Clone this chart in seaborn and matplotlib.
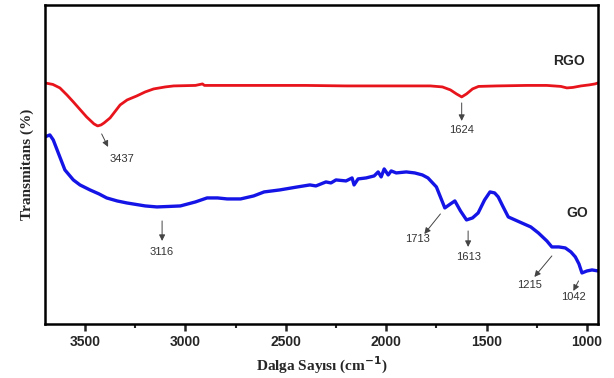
import matplotlib
matplotlib.use('Agg')
import matplotlib.pyplot as plt
from matplotlib.ticker import MultipleLocator
import pandas as pd
import seaborn as sns

# FTIR spectra, wavenumber (cm-1) vs transmittance (arbitrary units)
rgo_x = [3700, 3660, 3625, 3590, 3558, 3492, 3455, 3437, 3420, 3405, 3375, 3325, 3290, 3242,
         3200, 3158, 3100, 3058, 2950, 2915, 2905, 2800, 2600, 2400, 2200, 2000, 1900, 1780,
         1720, 1680, 1650, 1624, 1600, 1570, 1540, 1450, 1300, 1200, 1130, 1100, 1070, 1030,
         990, 960, 945]
rgo_y = [241, 239.5, 236, 229, 222, 207, 200, 198, 199, 201, 206, 219, 224, 228,
         232, 235, 237, 238, 238.5, 240, 238.5, 238.5, 238.5, 238.5, 238, 238, 238, 238,
         237, 234, 230, 227, 230, 235, 237.5, 238, 238.5, 238.5, 237.5, 236, 236.5, 238,
         239, 240, 241]

go_x = [3700, 3675, 3658, 3633, 3600, 3558, 3525, 3475, 3430, 3392, 3340, 3292, 3200, 3142,
        3080, 3025, 2950, 2892, 2840, 2792, 2725, 2660, 2608, 2530, 2442, 2380, 2350, 2300,
        2275, 2250, 2200, 2170, 2160, 2140, 2100, 2060, 2040, 2025, 2010, 1990, 1975, 1950,
        1900, 1858, 1820, 1792, 1750, 1708, 1680, 1658, 1630, 1600, 1570, 1542, 1510, 1483,
        1460, 1442, 1420, 1392, 1325, 1280, 1242, 1200, 1175, 1140, 1108, 1080, 1058, 1040,
        1025, 1000, 975, 945]
go_y = [187, 189, 184, 171, 154, 144, 139, 134, 130, 126, 123, 121, 118, 117,
        117.5, 118, 122, 126, 126, 125, 125, 128, 132, 134, 137, 139, 138, 142,
        141, 144, 143, 146, 139, 145, 146, 148, 152, 147, 155, 149, 153, 151,
        152, 151, 149, 146, 137, 116, 120, 123, 113, 104, 106, 111, 124, 132,
        131, 127, 118, 107, 101, 97, 91, 83, 77, 77, 76, 72, 67, 60,
        51, 53, 54, 53]

# peak labels: (text, arrow start, arrow end, text position)
peak_labels = ['3437', '1624', '3116', '1713', '1613', '1215', '1042']
arrow_from = [(3417, 190), (1624, 221), (3116, 103), (1730, 110), (1592, 93), (1175, 68), (1042, 43)]
arrow_to = [(3385, 177), (1624, 203), (3116, 83), (1810, 90), (1592, 77), (1262, 47), (1068, 33)]
label_pos = [(3317, 165), (1624, 194), (3116, 72), (1845, 85), (1590, 67), (1287, 39), (1067, 27)]

rgo = pd.DataFrame({'wavenumber': rgo_x, 'T': rgo_y})
go = pd.DataFrame({'wavenumber': go_x, 'T': go_y})

sns.set_style('ticks')
plt.rcParams['font.family'] = ['Liberation Sans', 'DejaVu Sans']

fig, ax = plt.subplots(figsize=(6.14, 3.78), dpi=100)
fig.subplots_adjust(left=0.073, right=0.974, bottom=0.143, top=0.987)

sns.lineplot(data=rgo, x='wavenumber', y='T', ax=ax, color='#e8141c', lw=2.0,
             estimator=None, sort=False)
sns.lineplot(data=go, x='wavenumber', y='T', ax=ax, color='#1414e6', lw=2.4,
             estimator=None, sort=False)

ax.set_xlim(3700, 945)
ax.set_ylim(0, 319)

for lab, a0, a1, tp in zip(peak_labels, arrow_from, arrow_to, label_pos):
    ax.annotate('', xy=a1, xytext=a0,
                arrowprops=dict(arrowstyle='-|>', color='#444444', lw=0.7,
                                mutation_scale=9, shrinkA=0, shrinkB=0))
    ax.text(tp[0], tp[1], lab, fontsize=8, color='#333333', ha='center', va='center')

ax.text(1092, 263, 'RGO', fontsize=10, fontweight='bold', ha='center', va='center')
ax.text(1050, 111, 'GO', fontsize=10, fontweight='bold', ha='center', va='center')

ax.xaxis.set_major_locator(MultipleLocator(500))
ax.xaxis.set_minor_locator(MultipleLocator(250))
ax.set_yticks([])
ax.tick_params(axis='x', which='major', length=5, width=1.8, labelsize=10, pad=3)
ax.tick_params(axis='x', which='minor', length=3, width=1.5)
for lbl in ax.get_xticklabels():
    lbl.set_fontweight('bold')
for sp in ax.spines.values():
    sp.set_visible(True)
    sp.set_linewidth(1.8)
    sp.set_color('black')

ax.set_xlabel('Dalga Sayısı (cm$^{\\mathbf{-1}}$)', fontsize=11, fontweight='bold',
              family=['Liberation Serif', 'DejaVu Serif'], labelpad=4)
ax.set_ylabel('Transmitans (%)', fontsize=11, fontweight='bold',
              family=['Liberation Serif', 'DejaVu Serif'], labelpad=8)

fig.savefig('out.png', dpi=100)
